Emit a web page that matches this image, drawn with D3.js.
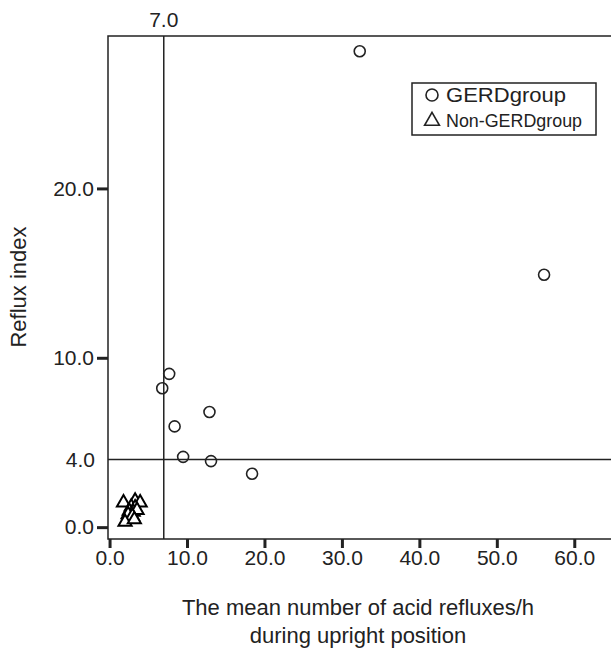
<!DOCTYPE html>
<html><head><meta charset="utf-8">
<script src="https://cdn.jsdelivr.net/npm/d3@7"></script>
<style>
html,body{margin:0;padding:0;background:#fff;}
svg{display:block;font-family:"Liberation Sans",Arial,Helvetica,sans-serif;}
</style></head>
<body><svg id="c" width="611" height="650"></svg>
<script>
// GERD group (circles): x = mean number of acid refluxes/h upright, y = reflux index
const gerdX = [32.3, 56.1, 6.8, 7.7, 8.4, 12.9, 9.5, 13.1, 18.4];
const gerdY = [28.1, 14.9, 8.2, 9.05, 5.95, 6.8, 4.15, 3.9, 3.15];
// Non-GERD group (triangles)
const nonX = [1.8, 3.3, 3.95, 2.8, 3.3, 2.55, 3.05, 3.55, 2.4, 2.95, 2.0, 3.2];
const nonY = [1.45, 1.55, 1.45, 1.2, 1.15, 0.95, 0.9, 1.0, 0.75, 0.65, 0.3, 0.45];
const xTicks = [0, 10, 20, 30, 40, 50, 60];
const yTicks = [0, 10, 20];
const refX = 7.0, refY = 4.0;
const legendLabels = ["GERDgroup", "Non-GERDgroup"];
const xTitle = ["The mean number of acid refluxes/h", "during upright position"];
const yTitle = "Reflux index";

const svg = d3.select("#c");
const ink = "#222";
const x = d3.scaleLinear().domain([-0.2, 65]).range([108, 613]);
const y = d3.scaleLinear().domain([-0.7, 29]).range([539, 36]);
const fmt = d3.format(".1f");

// plot frame
svg.append("rect").attr("x", x(-0.2)).attr("y", y(29))
  .attr("width", x(65) - x(-0.2)).attr("height", y(-0.7) - y(29))
  .attr("fill", "none").attr("stroke", ink).attr("stroke-width", 1.5);

// reference lines
svg.append("line").attr("x1", x(refX)).attr("x2", x(refX)).attr("y1", y(29)).attr("y2", y(-0.7))
  .attr("stroke", ink).attr("stroke-width", 1.5);
svg.append("line").attr("x1", x(-0.2)).attr("x2", x(65)).attr("y1", y(refY)).attr("y2", y(refY))
  .attr("stroke", ink).attr("stroke-width", 1.5);
svg.append("text").attr("x", x(refX)).attr("y", 27).attr("text-anchor", "middle")
  .attr("font-size", 21).attr("fill", ink).text(fmt(refX));
svg.append("text").attr("x", 95).attr("y", y(refY)).attr("dy", "0.36em").attr("text-anchor", "end")
  .attr("font-size", 21).attr("fill", ink).text(fmt(refY));

// axes
const xa = svg.append("g").attr("transform", `translate(0,${y(-0.7)})`)
  .call(d3.axisBottom(x).tickValues(xTicks).tickFormat(fmt).tickSize(9).tickPadding(2));
const ya = svg.append("g").attr("transform", `translate(${x(-0.2)},0)`)
  .call(d3.axisLeft(y).tickValues(yTicks).tickFormat(fmt).tickSize(11).tickPadding(3));
[xa, ya].forEach(g => {
  g.select(".domain").remove();
  g.selectAll(".tick line").attr("stroke", ink).attr("stroke-width", 3);
  g.selectAll(".tick text").attr("fill", ink).attr("font-size", 21)
    .attr("font-family", "'Liberation Sans',Arial,sans-serif");
});

// non-GERD triangles
const tri = d3.symbol().type(d3.symbolTriangle).size(75);
svg.append("g").selectAll("path").data(nonX.map((d, i) => [d, nonY[i]])).join("path")
  .attr("d", tri).attr("transform", d => `translate(${x(d[0])},${y(d[1])})`)
  .attr("fill", "#fff").attr("stroke", "#000").attr("stroke-width", 2);

// GERD circles
svg.append("g").selectAll("circle").data(gerdX.map((d, i) => [d, gerdY[i]])).join("circle")
  .attr("cx", d => x(d[0])).attr("cy", d => y(d[1])).attr("r", 5.5)
  .attr("fill", "none").attr("stroke", ink).attr("stroke-width", 1.6);

// legend
const lg = svg.append("g");
lg.append("rect").attr("x", 412).attr("y", 83).attr("width", 184).attr("height", 52)
  .attr("fill", "#fff").attr("stroke", ink).attr("stroke-width", 1.5);
lg.append("circle").attr("cx", 432).attr("cy", 95).attr("r", 6)
  .attr("fill", "none").attr("stroke", ink).attr("stroke-width", 1.6);
lg.append("path").attr("d", d3.symbol().type(d3.symbolTriangle).size(95))
  .attr("transform", "translate(432,121)")
  .attr("fill", "none").attr("stroke", ink).attr("stroke-width", 1.6);
lg.append("text").attr("x", 446).attr("y", 102).attr("font-size", 21).attr("fill", ink)
  .attr("textLength", 120).attr("lengthAdjust", "spacingAndGlyphs").text(legendLabels[0]);
lg.append("text").attr("x", 446).attr("y", 127).attr("font-size", 19).attr("fill", ink)
  .attr("textLength", 136).attr("lengthAdjust", "spacingAndGlyphs").text(legendLabels[1]);

// axis titles
svg.append("text").attr("transform", "translate(26,287) rotate(-90)").attr("text-anchor", "middle")
  .attr("font-size", 22).attr("fill", ink).text(yTitle);
svg.append("g").selectAll("text").data(xTitle).join("text")
  .attr("x", 358).attr("y", (d, i) => 615 + i * 28).attr("text-anchor", "middle")
  .attr("font-size", 22).attr("fill", ink).text(d => d);
</script></body></html>
